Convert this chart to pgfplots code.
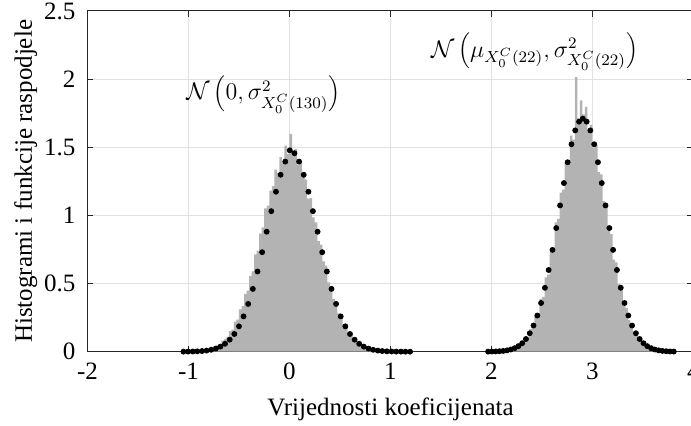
\documentclass[border=0pt]{standalone}
\usepackage[no-math]{fontspec}
\setmainfont{Liberation Serif}
\usepackage{pgfplots}
\usepackage{pgfplotstable}
\pgfplotsset{compat=1.18}
\definecolor{histgray}{RGB}{179,179,179}
\definecolor{gridgray}{RGB}{225,225,225}
\definecolor{axgray}{RGB}{38,38,38}

\pgfplotstableread{
x y
-1.050 0.000
-1.025 0.002
-1.000 0.000
-0.975 0.003
-0.950 0.004
-0.925 0.002
-0.900 0.008
-0.875 0.011
-0.850 0.009
-0.825 0.018
-0.800 0.024
-0.775 0.022
-0.750 0.041
-0.725 0.049
-0.700 0.055
-0.675 0.081
-0.650 0.094
-0.625 0.108
-0.600 0.150
-0.575 0.161
-0.550 0.221
-0.525 0.236
-0.500 0.310
-0.475 0.335
-0.450 0.425
-0.425 0.448
-0.400 0.556
-0.375 0.590
-0.350 0.715
-0.325 0.742
-0.300 0.866
-0.275 0.912
-0.250 1.052
-0.225 1.071
-0.200 1.182
-0.175 1.214
-0.150 1.336
-0.125 1.312
-0.100 1.428
-0.075 1.385
-0.050 1.512
-0.025 1.452
0.000 1.598
0.025 1.441
0.050 1.486
0.075 1.372
0.100 1.395
0.125 1.281
0.150 1.262
0.175 1.124
0.200 1.127
0.225 0.985
0.250 0.948
0.275 0.811
0.300 0.785
0.325 0.662
0.350 0.631
0.375 0.509
0.400 0.478
0.425 0.385
0.450 0.361
0.475 0.281
0.500 0.262
0.525 0.199
0.550 0.185
0.575 0.131
0.600 0.121
0.625 0.086
0.650 0.079
0.675 0.055
0.700 0.049
0.725 0.033
0.750 0.030
0.775 0.019
0.800 0.017
0.825 0.010
0.850 0.012
0.875 0.005
0.900 0.006
0.925 0.003
0.950 0.002
0.975 0.002
1.000 0.001
1.025 0.000
1.050 0.001
1.075 0.000
1.100 0.000
1.125 0.000
1.150 0.000
1.175 0.000
1.200 0.000
}\histA

\pgfplotstableread{
x y
1.950 0.000
1.975 0.001
2.000 0.000
2.025 0.003
2.050 0.002
2.075 0.005
2.100 0.004
2.125 0.010
2.150 0.009
2.175 0.019
2.200 0.018
2.225 0.035
2.250 0.036
2.275 0.061
2.300 0.065
2.325 0.101
2.350 0.110
2.375 0.168
2.400 0.176
2.425 0.262
2.450 0.270
2.475 0.388
2.500 0.402
2.525 0.545
2.550 0.566
2.575 0.735
2.600 0.762
2.625 0.948
2.650 0.975
2.675 1.168
2.700 1.190
2.725 1.385
2.750 1.402
2.775 1.585
2.800 1.556
2.825 2.015
2.850 1.712
2.875 1.845
2.900 1.742
2.925 1.796
2.950 1.628
2.975 1.662
3.000 1.498
3.025 1.515
3.050 1.318
3.075 1.302
3.100 1.105
3.125 1.085
3.150 0.884
3.175 0.862
3.200 0.676
3.225 0.655
3.250 0.496
3.275 0.468
3.300 0.348
3.325 0.322
3.350 0.232
3.375 0.210
3.400 0.148
3.425 0.132
3.450 0.090
3.475 0.079
3.500 0.052
3.525 0.045
3.550 0.029
3.575 0.025
3.600 0.015
3.625 0.013
3.650 0.008
3.675 0.007
3.700 0.004
3.725 0.003
3.750 0.002
3.775 0.001
3.800 0.001
3.825 0.000
3.850 0.000
}\histB

\pgfplotstableread{
x y
-1.050 0.0004
-1.004 0.0007
-0.958 0.0014
-0.913 0.0026
-0.867 0.0047
-0.821 0.0082
-0.775 0.0140
-0.729 0.0231
-0.684 0.0372
-0.638 0.0580
-0.592 0.0881
-0.546 0.1299
-0.500 0.1861
-0.455 0.2591
-0.409 0.3505
-0.363 0.4607
-0.317 0.5884
-0.271 0.7301
-0.226 0.8802
-0.180 1.0312
-0.134 1.1737
-0.088 1.2981
-0.042 1.3949
0.003 1.4775
0.049 1.4564
0.095 1.3949
0.141 1.2981
0.187 1.1737
0.232 1.0312
0.278 0.8802
0.324 0.7301
0.370 0.5884
0.416 0.4607
0.461 0.3505
0.507 0.2591
0.553 0.1861
0.599 0.1299
0.645 0.0881
0.690 0.0580
0.736 0.0372
0.782 0.0231
0.828 0.0140
0.874 0.0082
0.919 0.0047
0.965 0.0026
1.011 0.0014
1.057 0.0007
1.103 0.0004
1.148 0.0002
1.194 0.0001
}\pdfA

\pgfplotstableread{
x y
1.966 0.0005
2.004 0.0010
2.041 0.0018
2.079 0.0033
2.116 0.0057
2.154 0.0097
2.191 0.0160
2.229 0.0258
2.266 0.0406
2.304 0.0623
2.341 0.0930
2.379 0.1354
2.416 0.1920
2.454 0.2654
2.491 0.3573
2.529 0.4689
2.566 0.5995
2.604 0.7471
2.641 0.9071
2.679 1.0733
2.717 1.2374
2.754 1.3902
2.792 1.5220
2.829 1.6237
2.867 1.6880
2.904 1.7100
2.942 1.6880
2.979 1.6237
3.017 1.5220
3.054 1.3902
3.092 1.2374
3.129 1.0733
3.167 0.9071
3.204 0.7471
3.242 0.5995
3.280 0.4689
3.317 0.3573
3.355 0.2654
3.392 0.1920
3.430 0.1354
3.467 0.0930
3.505 0.0623
3.542 0.0406
3.580 0.0258
3.617 0.0160
3.655 0.0097
3.692 0.0057
3.730 0.0033
3.767 0.0018
3.805 0.0010
}\pdfB

\begin{document}
\begin{tikzpicture}
\begin{axis}[
  name=ax,
  scale only axis, width=303pt, height=170.35pt,
  xmin=-2, xmax=4, ymin=0, ymax=2.5,
  xtick={-2,-1,0,1,2,3,4}, xticklabels={-2,-1,0,1,2,3,4},
  ytick={0,0.5,1,1.5,2,2.5}, yticklabels={0,0.5,1,1.5,2,2.5},
  tick label style={font=\fontsize{12.5}{14}\selectfont, text=black},
  xticklabel style={yshift=-2.2pt},
  yticklabel style={xshift=-2.5pt},
  grid=major, major grid style={gridgray, line width=0.5pt},
  axis line style={axgray, line width=0.5pt},
  major tick style={axgray, line width=0.5pt},
  major tick length=3pt,
  tick align=inside,
  xlabel={Vrijednosti koeficijenata},
  ylabel={Histogrami i funkcije raspodjele},
  label style={font=\fontsize{12.5}{15}\selectfont},
  xlabel style={at={(axis description cs:0.5,-0.168)}, anchor=center},
  ylabel style={at={(axis description cs:-0.102,0.5)}, anchor=center},
]
\addplot[const plot mark left, fill=histgray, draw=none] table {\histA} \closedcycle;
\addplot[const plot mark left, fill=histgray, draw=none] table {\histB} \closedcycle;
\addplot[only marks, mark=*, mark size=1.25pt, black] table {\pdfA};
\addplot[only marks, mark=*, mark size=1.25pt, black] table {\pdfB};
\node at (axis cs:-0.258,1.885) {\fontsize{11.6}{13}\selectfont $\mathcal{N}\left(0,\sigma^2_{X_0^C(130)}\right)$};
\node at (axis cs:2.426,2.20) {\fontsize{11.6}{13}\selectfont $\mathcal{N}\left(\mu_{X_0^C(22)},\sigma^2_{X_0^C(22)}\right)$};
\end{axis}
\pgfresetboundingbox
\path[use as bounding box] ([shift={(-43.75pt,-37.15pt)}]ax.south west) rectangle ([shift={(301.75pt,175.85pt)}]ax.south west);
\end{tikzpicture}
\end{document}
